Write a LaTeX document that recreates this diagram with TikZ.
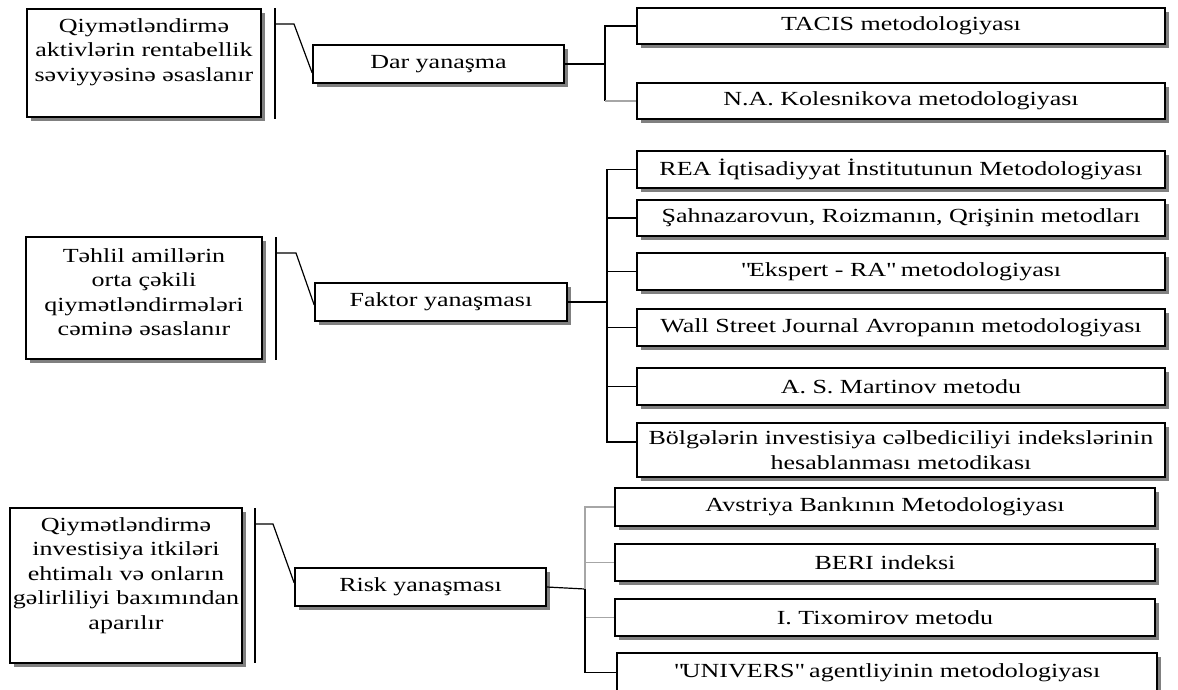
\documentclass[tikz,border=0pt]{standalone}
\usepackage{fontspec}
\setmainfont{Liberation Serif}[FakeStretch=1.3]
\usetikzlibrary{
  positioning,  % Function "of" (e.g. [below=of x])
  shadows,      % Drop shadow of the boxes
}
\def\mywide{528}
\def\myriskwide{540}
\def\myhigh{37}
\def\mytop{10pt}
\newcommand{\qt}[1]{\textquotedbl#1\textquotedbl}
\tikzset{
  semithick,
  my box/.style={
    draw,
    line width=1.6pt,
    fill=white,
    inner sep=0pt,
    drop shadow={shadow xshift=3.5pt,shadow yshift=-3.5pt,fill=black!50,opacity=1}
  },
  goal box/.style={
    my box
  },
  way box/.style={
    my box,
    minimum width=251,
    minimum height=38
  },
  method box/.style={
    my box,
    minimum width=\mywide,
    minimum height=\myhigh
  },
  risk box/.style={
    my box,
    minimum width=\myriskwide,
    minimum height=\myhigh
  },
  goal text/.style={
    align=center,
    inner sep=0pt
  },
  bar/.style={
    line width=1.4pt
  },
  link/.style={
    line width=1.2pt
  },
  faint/.style={
    line width=1.2pt,
    draw=black!35
  }
}

\begin{document}
\begin{tikzpicture}[x=1pt,y=-1pt,font=\fontsize{20}{24.5}\selectfont]
\useasboundingbox (0,0) rectangle (1178,689);

% Dar yanasma
\node[goal box,minimum width=234,minimum height=108] (q1) at (144,63) {};
\node[goal text,below=\mytop of q1.north] (q1t)
  {Qiymətləndirmə\\aktivlərin rentabellik\\səviyyəsinə əsaslanır};
\node[way box] (dar) at (438.5,64) {Dar yanaşma};
\node[method box,minimum height=36] (tacis) at (901,26) {TACIS metodologiyası};
\node[method box,minimum height=36] (na) at (901,101) {N.A. Kolesnikova metodologiyası};
\coordinate (b1t) at (275,8);
\coordinate (b1b) at (275,119);
\coordinate (b1k) at (275,24);
\coordinate (dj) at (605,64);
\draw[bar] (b1t) -- (b1b);
\draw[link] (b1k) -- ++(19,0) -- ([yshift=-9pt]dar.west);
\draw[link] (dar.east) -- (dj);
\draw[link] (dj) |- (tacis.west);
\draw[link] (dj) -- (dj |- na.west);
\draw[faint] (dj |- na.west) -- (na.west);

% Faktor yanasmasi
\node[goal box,minimum width=236,minimum height=122] (q2) at (144,298) {};
\node[goal text,below=12pt of q2.north] (q2t)
  {Təhlil amillərin\\orta çəkili\\qiymətləndirmələri\\cəminə əsaslanır};
\node[way box,minimum width=252] (fak) at (441,302) {Faktor yanaşması};
\node[method box] (rea) at (901,169.5) {REA İqtisadiyyat İnstitutunun Metodologiyası};
\node[method box,minimum height=36] (sah) at (901,218) {Şahnazarovun, Roizmanın, Qrişinin metodları};
\node[method box] (eks) at (901,271.5) {\qt{Ekspert - RA} metodologiyası};
\node[method box] (wsj) at (901,327.5) {Wall Street Journal Avropanın metodologiyası};
\node[method box] (mar) at (901,386.5) {A. S. Martinov metodu};
\node[method box,minimum height=54,align=center] (bol) at (901,450)
  {Bölgələrin investisiya cəlbediciliyi indekslərinin\\hesablanması metodikası};
\coordinate (b2t) at (276,237);
\coordinate (b2b) at (276,360);
\coordinate (b2k) at (276,253);
\coordinate (fj) at (607,302);
\draw[bar] (b2t) -- (b2b);
\draw[link] (b2k) -- ++(20,0) -- ([yshift=-3pt]fak.west);
\draw[link] (fak.east) -- (fj);
\foreach \n in {rea,sah,eks,wsj,mar}
  \draw[link] (fj) |- (\n.west);
\draw[link] (fj) |- ([yshift=8pt]bol.west);

% Risk yanasmasi
\node[goal box,minimum width=232,minimum height=155] (q3) at (126,585.5) {};
\node[goal text,below=\mytop of q3.north] (q3t)
  {Qiymətləndirmə\\investisiya itkiləri\\ehtimalı və onların\\gəlirliliyi baxımından\\aparılır};
\node[way box] (risk) at (420.5,587) {Risk yanaşması};
\node[risk box,minimum height=38] (avs) at (885,507) {Avstriya Bankının Metodologiyası};
\node[risk box] (ber) at (885,562.5) {BERI indeksi};
\node[risk box] (tix) at (885,617.5) {I. Tixomirov metodu};
\node[risk box,minimum height=39] (uni) at (887,672.5) {\qt{UNIVERS} agentliyinin metodologiyası};
\coordinate (b3t) at (255,508);
\coordinate (b3b) at (255,663);
\coordinate (b3k) at (255,524);
\coordinate (rj) at (585,589);
\draw[bar] (b3t) -- (b3b);
\draw[link] (b3k) -- ++(18,0) -- ([yshift=4pt]risk.west);
\draw[link] (risk.east) -- (rj);
\foreach \n in {avs,ber,tix}
  \draw[faint] (rj) |- (\n.west);
\draw[link] (rj) |- (uni.west);
\end{tikzpicture}
\end{document}
